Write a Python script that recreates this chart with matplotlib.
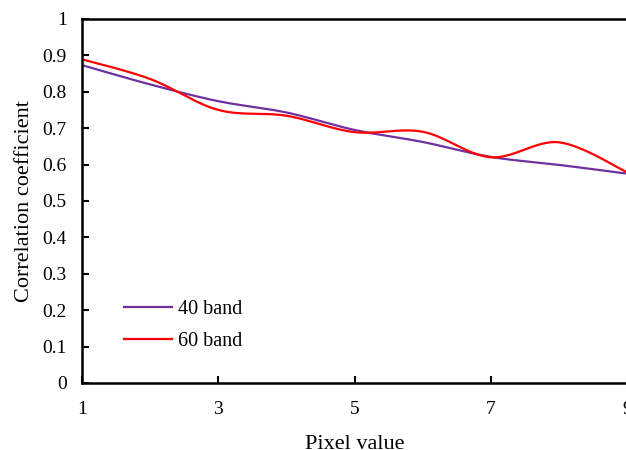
import numpy as np
import matplotlib.pyplot as plt

# Data
pixel_values = [1, 2, 3, 4, 5, 6, 7, 8, 9]
band_40 = [0.873, 0.820, 0.774, 0.743, 0.695, 0.662, 0.621, 0.599, 0.575]
band_60 = [0.889, 0.835, 0.750, 0.734, 0.689, 0.690, 0.620, 0.661, 0.579]


def smooth(x, y, n=30):
    # Catmull-Rom style smoothing, like a spreadsheet "smoothed line"
    x = np.asarray(x, float)
    y = np.asarray(y, float)
    px = np.concatenate([[x[0]], x, [x[-1]]])
    py = np.concatenate([[y[0]], y, [y[-1]]])
    xs, ys = [], []
    t = np.linspace(0, 1, n)
    for i in range(1, len(px) - 2):
        p0x, p1x, p2x, p3x = px[i - 1], px[i], px[i + 1], px[i + 2]
        p0y, p1y, p2y, p3y = py[i - 1], py[i], py[i + 1], py[i + 2]
        c1x, c1y = p1x + (p2x - p0x) / 6, p1y + (p2y - p0y) / 6
        c2x, c2y = p2x - (p3x - p1x) / 6, p2y - (p3y - p1y) / 6
        bx = (1 - t) ** 3 * p1x + 3 * (1 - t) ** 2 * t * c1x + 3 * (1 - t) * t ** 2 * c2x + t ** 3 * p2x
        by = (1 - t) ** 3 * p1y + 3 * (1 - t) ** 2 * t * c1y + 3 * (1 - t) * t ** 2 * c2y + t ** 3 * p2y
        xs.extend(bx)
        ys.extend(by)
    return xs, ys


plt.rcParams['font.family'] = ['Liberation Serif', 'DejaVu Serif']

fig = plt.figure(figsize=(6.26, 4.5), dpi=100)
ax = fig.add_axes([0.131, 0.149, 0.8706, 0.809])

x40, y40 = smooth(pixel_values, band_40)
x60, y60 = smooth(pixel_values, band_60)
ax.plot(x40, y40, color='#7030A0', lw=1.6, label='40 band')
ax.plot(x60, y60, color='#FF0000', lw=1.6, label='60 band')

ax.set_xlim(1, 9)
ax.set_ylim(0, 1)
ax.set_xticks([1, 3, 5, 7, 9])
ax.set_yticks(np.arange(0, 1.01, 0.1))
ax.set_yticklabels(['0', '0.1', '0.2', '0.3', '0.4', '0.5', '0.6', '0.7', '0.8', '0.9', '1'])
ax.tick_params(direction='in', length=5, width=1.5, labelsize=14, colors='black')
ax.tick_params(axis='x', pad=13)
ax.tick_params(axis='y', pad=11)
for s in ax.spines.values():
    s.set_linewidth(1.8)

ax.set_xlabel('Pixel value', fontsize=16, labelpad=12)
ax.set_ylabel('Correlation coefficient', fontsize=16, labelpad=6)

ax.legend(loc='upper left', bbox_to_anchor=(0.077, 0.228), frameon=False,
          fontsize=14.5, handlelength=2.4, handletextpad=0.3, labelspacing=0.64,
          borderpad=0, borderaxespad=0)

fig.savefig('out.png', dpi=100)
